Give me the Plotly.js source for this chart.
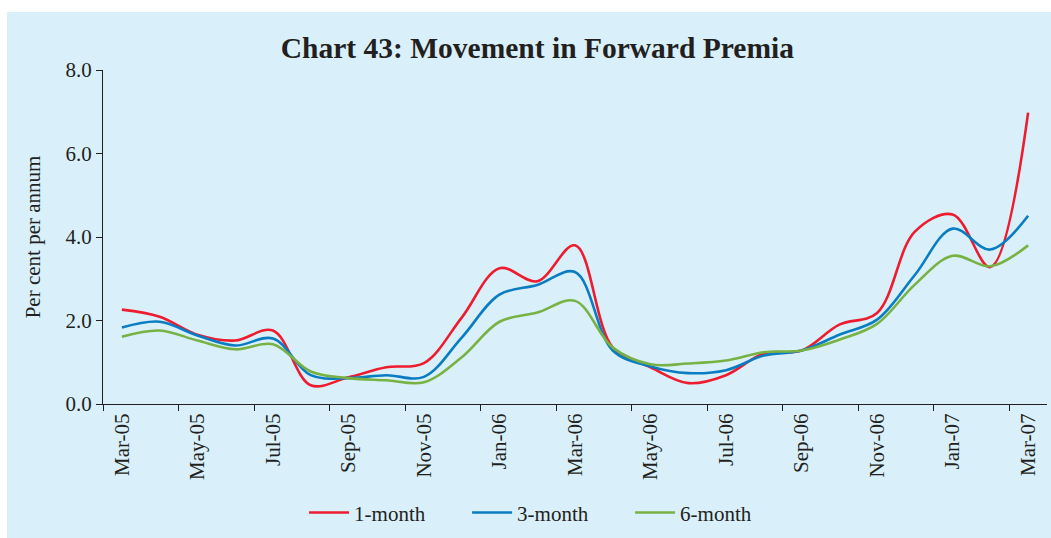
<!DOCTYPE html>
<html><head><meta charset="utf-8">
<script src="https://cdn.plot.ly/plotly-3.0.1.min.js"></script>
<style>
html,body{margin:0;padding:0;background:#ffffff;width:1051px;height:538px;overflow:hidden;}
#chart{position:absolute;left:7px;top:12px;width:1044px;height:526px;}
</style></head><body>
<div id="chart"></div>
<script>
const months = ["Mar-05","Apr-05","May-05","Jun-05","Jul-05","Aug-05","Sep-05","Oct-05","Nov-05","Dec-05",
  "Jan-06","Feb-06","Mar-06","Apr-06","May-06","Jun-06","Jul-06","Aug-06","Sep-06","Oct-06","Nov-06","Dec-06",
  "Jan-07","Feb-07","Mar-07"];
const oneMonth   = [2.26,2.09,1.66,1.52,1.76,0.45,0.64,0.88,0.98,2.07,3.25,2.94,3.80,1.35,0.88,0.50,0.69,1.21,1.28,1.90,2.18,4.13,4.54,3.28,6.98];
const threeMonth = [1.83,1.97,1.64,1.40,1.57,0.69,0.62,0.69,0.65,1.59,2.62,2.85,3.16,1.28,0.90,0.74,0.81,1.16,1.28,1.66,2.02,3.09,4.20,3.70,4.51];
const sixMonth   = [1.61,1.76,1.52,1.31,1.43,0.78,0.62,0.57,0.52,1.12,1.97,2.19,2.47,1.35,0.95,0.97,1.04,1.24,1.28,1.54,1.92,2.86,3.55,3.30,3.80];
const seriesNames = ["1-month","3-month","6-month"];

const serif = "'Liberation Serif', 'Times New Roman', serif";
const ink = "#231f20";
function tr(name, y, color){
  return {x: months, y: y, name: name, type: "scatter", mode: "lines",
    line: {color: color, width: 2.6, shape: "spline", smoothing: 1}, hoverinfo: "skip"};
}
const data = [
  tr(seriesNames[0], oneMonth, "#ed1c2e"),
  tr(seriesNames[1], threeMonth, "#0a7cc1"),
  tr(seriesNames[2], sixMonth, "#78b244")
];
const layout = {
  width: 1044, height: 526,
  paper_bgcolor: "#d9f0fa", plot_bgcolor: "#d9f0fa",
  margin: {l: 96, r: 4, t: 58, b: 131},
  font: {family: serif, size: 21, color: ink},
  title: {text: "<b>Chart 43: Movement in Forward Premia</b>", font: {family: serif, size: 29.5, color: ink},
    x: 0.508, xref: "container", xanchor: "center", y: 0.932, yref: "container", yanchor: "middle"},
  xaxis: {type: "category", range: [-0.5, 24.5], tickmode: "linear", tick0: 0, dtick: 2,
    tickson: "boundaries", ticks: "outside", ticklen: 6, tickcolor: ink, tickwidth: 1,
    showline: true, linecolor: ink, linewidth: 1, showgrid: false, zeroline: false,
    tickangle: -90, tickfont: {family: serif, size: 21, color: ink}},
  yaxis: {range: [0, 8], tickmode: "linear", tick0: 0, dtick: 2, tickformat: ".1f",
    ticks: "outside", ticklen: 6, tickcolor: ink, tickwidth: 1,
    showline: true, linecolor: ink, linewidth: 1, showgrid: false, zeroline: false,
    tickfont: {family: serif, size: 21, color: ink},
    title: {text: "Per cent per annum", font: {family: serif, size: 21, color: ink}, standoff: 19}},
  showlegend: true,
  legend: {orientation: "h", x: 0.472, xanchor: "center", y: -0.326, yanchor: "middle",
    font: {family: serif, size: 21, color: ink}, bgcolor: "rgba(0,0,0,0)",
    entrywidth: 108, entrywidthmode: "pixels", itemwidth: 40, tracegroupgap: 0}
};
Plotly.newPlot("chart", data, layout, {staticPlot: true, displayModeBar: false});
</script>
</body></html>
